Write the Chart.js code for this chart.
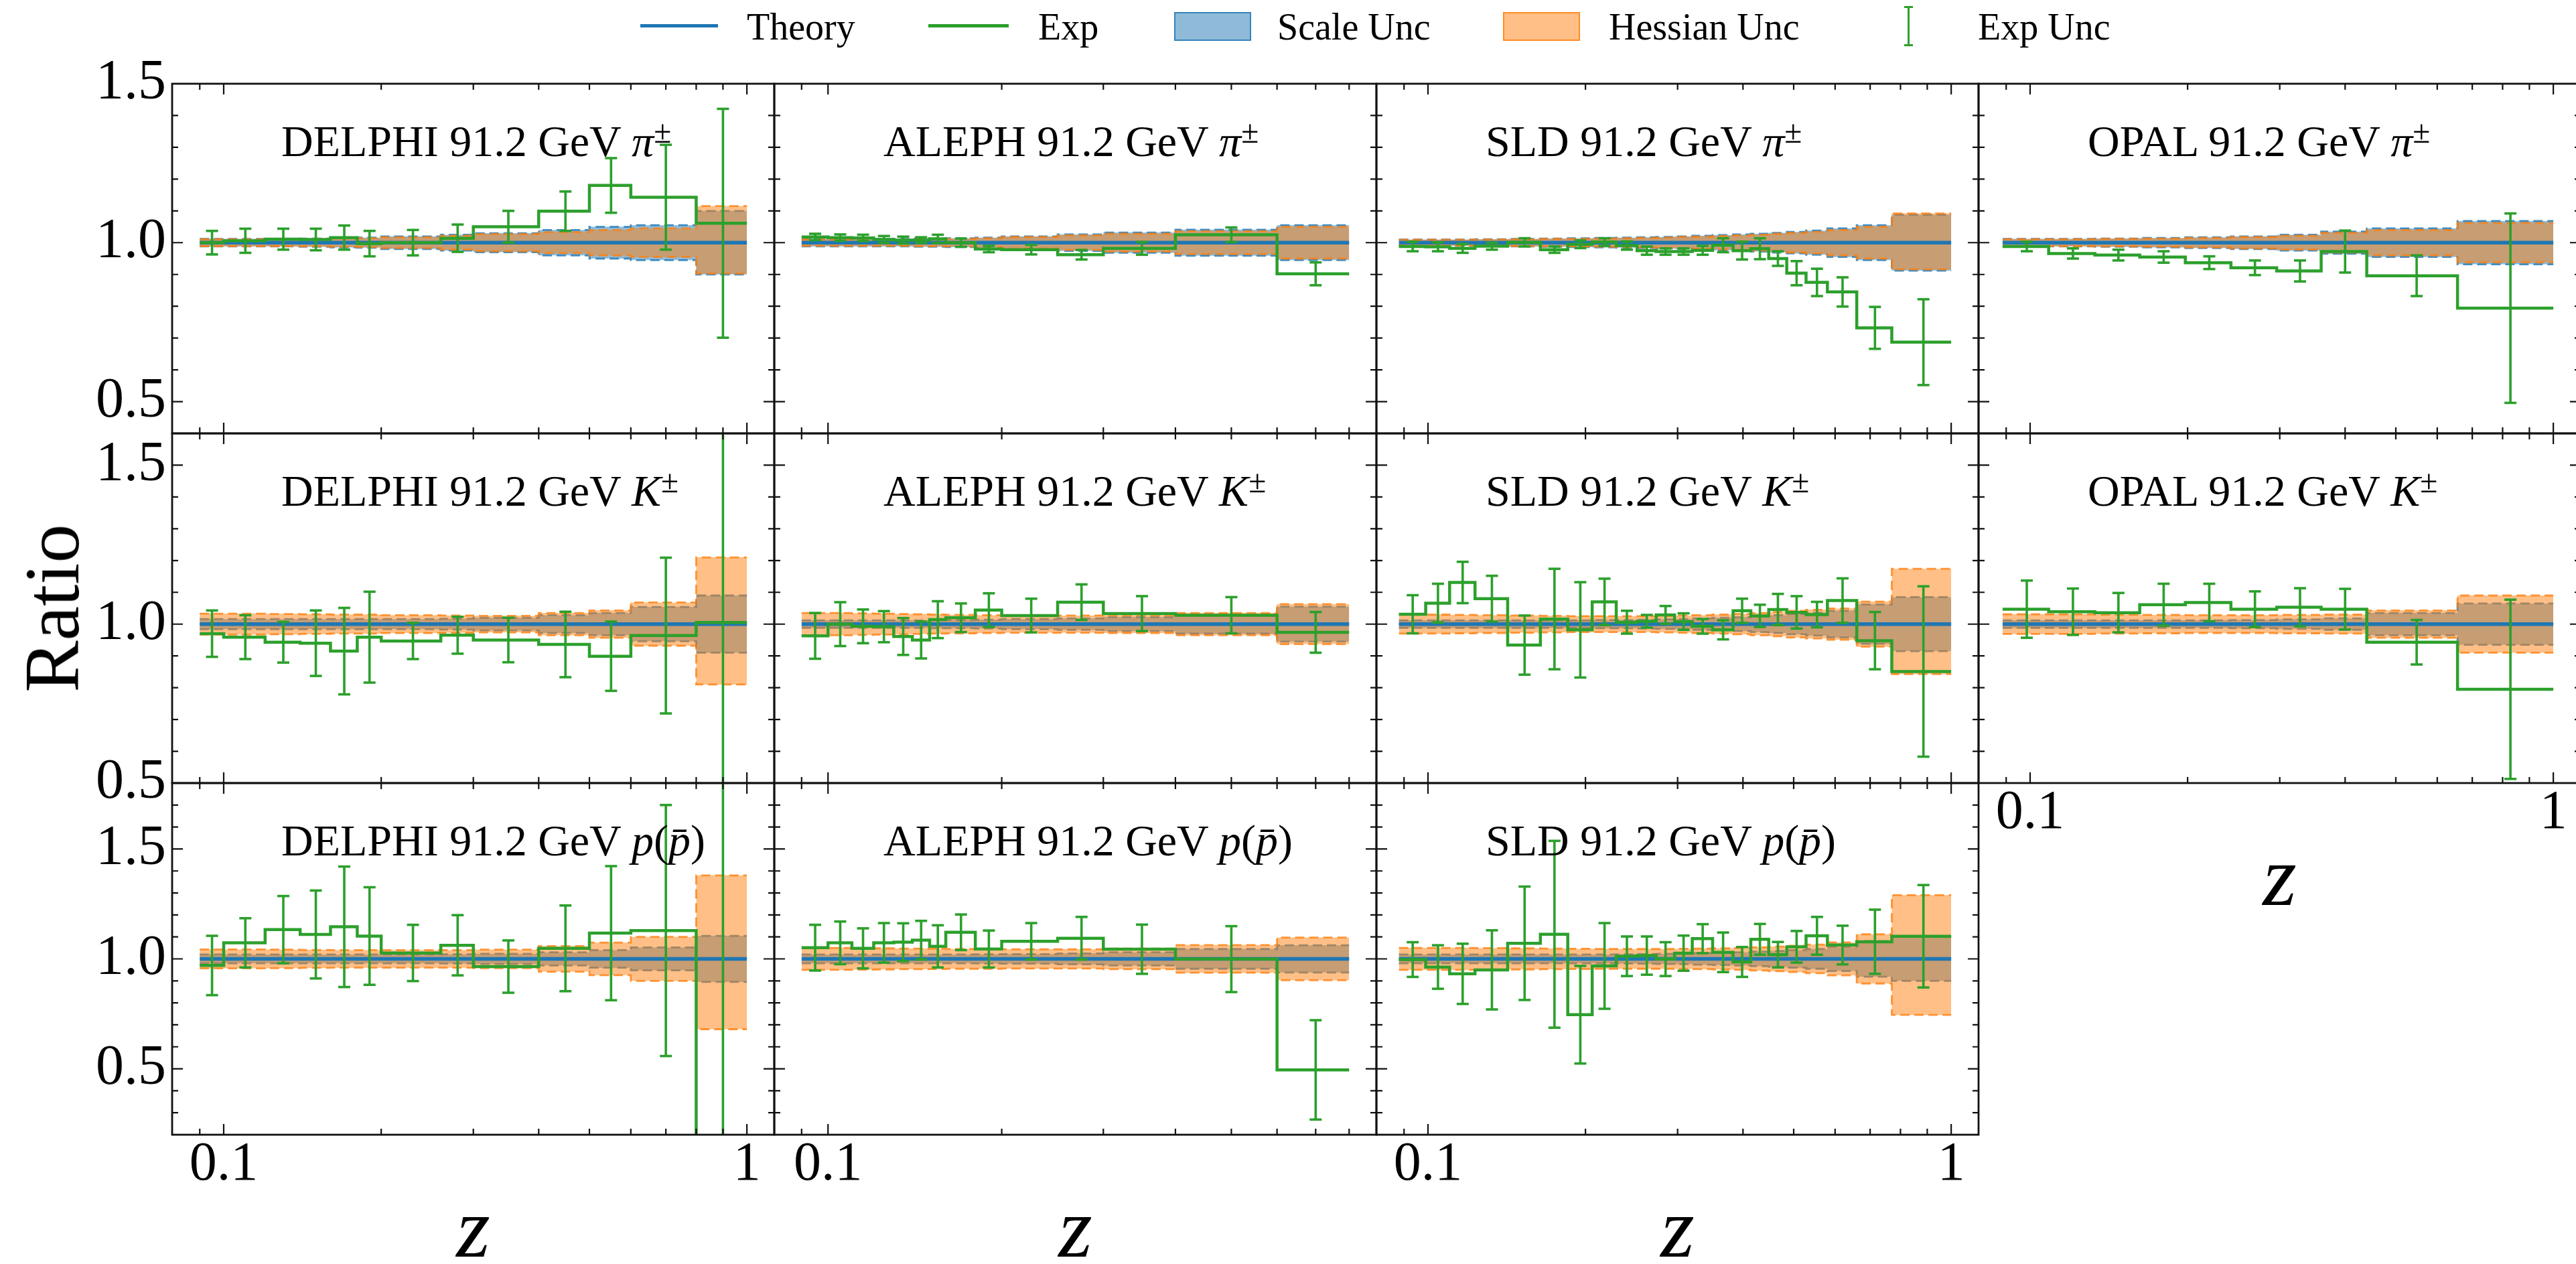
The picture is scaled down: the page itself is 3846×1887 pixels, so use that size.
<!DOCTYPE html>
<html>
<head>
<meta charset="utf-8">
<title>Ratio to theory</title>
<script src="https://cdn.jsdelivr.net/npm/chart.js@4.4.1/dist/chart.umd.min.js"></script>
<style>
html,body{margin:0;padding:0;background:#fff;}
body{position:relative;width:3846px;height:1887px;overflow:hidden;font-family:"Liberation Serif","Times New Roman",serif;color:#000;}
canvas{position:absolute;}
.txt{position:absolute;white-space:nowrap;line-height:1;}
.ptitle{font-size:66px;}
.sup{position:relative;top:-0.42em;font-size:0.72em;}
.leg{font-size:56px;}
.sw{position:absolute;}
</style>
</head>
<body>
<script>
// ---------------- bin edges (z) ----------------
const DELPHI_EDGES = [0.09,0.1,0.12,0.14,0.16,0.18,0.2,0.26,0.3,0.4,0.5,0.6,0.8,1.0];
const ALEPH_EDGES  = [0.09,0.1,0.11,0.12,0.13,0.14,0.15,0.16,0.18,0.2,0.25,0.3,0.4,0.6,0.8];
const SLD_EDGES    = [0.088,0.099,0.11,0.123,0.142,0.164,0.185,0.206,0.229,0.251,0.273,0.296,0.32,0.35,0.383,0.414,0.448,0.485,0.528,0.58,0.66,0.77,1.0];
const OPAL_EDGES   = [0.0886,0.1085,0.133,0.162,0.198,0.242,0.296,0.36,0.44,0.656,1.0];

// ---------------- pi+- ----------------
const DELPHI_PI_EXP   = [1.0,1.006,1.011,1.01,1.016,0.997,1.0,1.014,1.05,1.099,1.18,1.143,1.061];
const DELPHI_PI_ERR   = [0.037,0.038,0.033,0.034,0.038,0.04,0.04,0.043,0.05,0.062,0.086,0.165,0.36];
const DELPHI_PI_SCALE = [0.012,0.012,0.012,0.013,0.015,0.016,0.02,0.025,0.03,0.04,0.05,0.055,0.1];
const DELPHI_PI_HESS_UP = [0.011,0.011,0.011,0.012,0.013,0.014,0.017,0.022,0.027,0.033,0.04,0.045,0.115];
const DELPHI_PI_HESS_DN = [0.011,0.011,0.011,0.012,0.013,0.014,0.017,0.022,0.027,0.033,0.04,0.045,0.097];

const ALEPH_PI_EXP   = [1.018,1.016,1.015,1.01,1.008,1.008,1.012,1.0,0.98,0.978,0.962,0.982,1.025,0.902];
const ALEPH_PI_ERR   = [0.01,0.01,0.01,0.011,0.011,0.009,0.013,0.013,0.01,0.015,0.015,0.02,0.023,0.036];
const ALEPH_PI_SCALE = [0.012,0.012,0.012,0.012,0.012,0.013,0.013,0.014,0.016,0.02,0.026,0.032,0.041,0.055];
const ALEPH_PI_HESS_UP = [0.01,0.01,0.01,0.01,0.01,0.011,0.011,0.012,0.014,0.018,0.023,0.028,0.036,0.05];
const ALEPH_PI_HESS_DN = ALEPH_PI_HESS_UP;

const SLD_PI_EXP   = [0.988,0.987,0.982,0.989,1.001,0.978,0.995,1.002,0.991,0.975,0.972,0.972,0.976,0.992,0.975,0.981,0.95,0.904,0.875,0.845,0.732,0.687];
const SLD_PI_ERR   = [0.015,0.014,0.014,0.011,0.013,0.01,0.012,0.012,0.013,0.013,0.01,0.01,0.014,0.022,0.028,0.033,0.023,0.038,0.043,0.046,0.066,0.135];
const SLD_PI_SCALE = [0.01,0.01,0.01,0.011,0.012,0.013,0.014,0.015,0.016,0.017,0.018,0.02,0.022,0.024,0.026,0.028,0.031,0.034,0.038,0.045,0.055,0.088];
const SLD_PI_HESS_UP = [0.009,0.009,0.009,0.01,0.011,0.012,0.012,0.013,0.014,0.015,0.016,0.018,0.019,0.021,0.023,0.025,0.028,0.031,0.034,0.04,0.05,0.092];
const SLD_PI_HESS_DN = [0.009,0.009,0.009,0.01,0.011,0.012,0.012,0.013,0.014,0.015,0.016,0.018,0.019,0.021,0.023,0.025,0.028,0.031,0.034,0.04,0.05,0.084];

const OPAL_PI_EXP   = [0.988,0.966,0.961,0.955,0.937,0.921,0.911,0.972,0.896,0.794];
const OPAL_PI_ERR   = [0.015,0.016,0.017,0.018,0.02,0.023,0.033,0.066,0.064,0.298];
const OPAL_PI_SCALE = [0.012,0.012,0.013,0.015,0.017,0.02,0.025,0.035,0.045,0.068];
const OPAL_PI_HESS_UP = [0.011,0.011,0.012,0.013,0.015,0.018,0.022,0.031,0.04,0.062];
const OPAL_PI_HESS_DN = OPAL_PI_HESS_UP;

// ---------------- K+- ----------------
const DELPHI_K_EXP   = [0.97,0.959,0.943,0.94,0.915,0.959,0.947,0.965,0.95,0.936,0.899,0.964,1.005];
const DELPHI_K_ERR   = [0.073,0.069,0.064,0.103,0.136,0.143,0.057,0.058,0.07,0.103,0.109,0.245,1.2];
const DELPHI_K_SCALE = [0.016,0.016,0.016,0.016,0.016,0.016,0.016,0.017,0.02,0.028,0.035,0.054,0.09];
const DELPHI_K_HESS_UP = [0.033,0.033,0.032,0.031,0.03,0.03,0.028,0.027,0.026,0.035,0.043,0.068,0.21];
const DELPHI_K_HESS_DN = [0.033,0.033,0.032,0.031,0.03,0.03,0.028,0.027,0.026,0.035,0.043,0.068,0.19];

const ALEPH_K_EXP   = [0.963,1.0,0.993,0.992,0.961,0.95,1.014,1.02,1.044,1.027,1.069,1.033,1.028,0.974];
const ALEPH_K_ERR   = [0.072,0.069,0.053,0.049,0.058,0.058,0.058,0.045,0.053,0.053,0.056,0.055,0.057,0.064];
const ALEPH_K_SCALE = [0.012,0.012,0.012,0.012,0.012,0.012,0.013,0.013,0.014,0.016,0.018,0.022,0.03,0.055];
const ALEPH_K_HESS_UP = [0.035,0.035,0.034,0.033,0.032,0.031,0.03,0.029,0.028,0.027,0.027,0.028,0.035,0.063];
const ALEPH_K_HESS_DN = ALEPH_K_HESS_UP;

const SLD_K_EXP   = [1.031,1.066,1.131,1.08,0.934,1.016,0.982,1.07,1.006,1.009,1.029,1.008,0.993,0.982,1.042,1.026,1.046,1.037,1.03,1.074,0.948,0.851];
const SLD_K_ERR   = [0.06,0.061,0.065,0.072,0.093,0.158,0.15,0.073,0.036,0.02,0.028,0.026,0.023,0.03,0.038,0.035,0.049,0.051,0.04,0.07,0.09,0.268];
const SLD_K_SCALE = [0.012,0.012,0.012,0.012,0.012,0.012,0.012,0.013,0.013,0.014,0.015,0.016,0.018,0.02,0.022,0.025,0.028,0.032,0.036,0.042,0.062,0.085];
const SLD_K_HESS_UP = [0.03,0.03,0.029,0.028,0.027,0.026,0.025,0.025,0.025,0.025,0.026,0.027,0.028,0.03,0.032,0.035,0.038,0.042,0.045,0.049,0.071,0.174];
const SLD_K_HESS_DN = [0.03,0.03,0.029,0.028,0.027,0.026,0.025,0.025,0.025,0.025,0.026,0.027,0.028,0.03,0.032,0.035,0.038,0.042,0.045,0.049,0.071,0.157];

const OPAL_K_EXP   = [1.047,1.039,1.036,1.061,1.068,1.047,1.053,1.047,0.943,0.795];
const OPAL_K_ERR   = [0.09,0.073,0.062,0.066,0.059,0.056,0.06,0.064,0.07,0.282];
const OPAL_K_SCALE = [0.012,0.012,0.012,0.012,0.012,0.013,0.015,0.018,0.035,0.065];
const OPAL_K_HESS_UP = [0.031,0.031,0.03,0.029,0.028,0.028,0.029,0.03,0.043,0.09];
const OPAL_K_HESS_DN = OPAL_K_HESS_UP;

// ---------------- p(pbar) ----------------
const DELPHI_P_EXP   = [0.97,1.073,1.133,1.111,1.146,1.104,1.027,1.062,0.965,1.048,1.117,1.129,0.05];
const DELPHI_P_ERR   = [0.135,0.112,0.153,0.2,0.274,0.222,0.128,0.137,0.119,0.195,0.305,0.571,2.0];
const DELPHI_P_SCALE = [0.02,0.02,0.02,0.02,0.02,0.02,0.02,0.021,0.023,0.03,0.04,0.052,0.105];
const DELPHI_P_HESS_UP = [0.043,0.043,0.042,0.041,0.04,0.04,0.04,0.04,0.042,0.058,0.074,0.1,0.38];
const DELPHI_P_HESS_DN = [0.043,0.043,0.042,0.041,0.04,0.04,0.04,0.04,0.042,0.058,0.074,0.1,0.32];

const ALEPH_P_EXP   = [1.051,1.073,1.048,1.073,1.076,1.085,1.057,1.121,1.045,1.08,1.094,1.044,0.999,0.495];
const ALEPH_P_ERR   = [0.104,0.097,0.091,0.09,0.086,0.088,0.096,0.081,0.084,0.083,0.097,0.112,0.15,0.226];
const ALEPH_P_SCALE = [0.02,0.02,0.02,0.02,0.02,0.02,0.02,0.02,0.021,0.022,0.025,0.03,0.045,0.062];
const ALEPH_P_HESS_UP = [0.05,0.05,0.049,0.048,0.047,0.047,0.046,0.045,0.045,0.044,0.044,0.047,0.063,0.097];
const ALEPH_P_HESS_DN = ALEPH_P_HESS_UP;

const SLD_P_EXP   = [0.997,0.963,0.932,0.95,1.071,1.112,0.746,0.968,1.012,1.015,0.999,1.026,1.092,1.03,0.986,1.089,1.019,1.055,1.105,1.063,1.078,1.103];
const SLD_P_ERR   = [0.079,0.099,0.137,0.18,0.258,0.425,0.222,0.195,0.09,0.087,0.077,0.08,0.066,0.09,0.068,0.07,0.058,0.072,0.086,0.088,0.146,0.233];
const SLD_P_SCALE = [0.02,0.02,0.02,0.02,0.02,0.02,0.02,0.02,0.021,0.022,0.023,0.024,0.026,0.028,0.03,0.033,0.036,0.04,0.045,0.055,0.081,0.1];
const SLD_P_HESS_UP = [0.05,0.05,0.05,0.049,0.048,0.047,0.046,0.045,0.045,0.045,0.045,0.046,0.047,0.048,0.05,0.053,0.056,0.06,0.065,0.075,0.112,0.29];
const SLD_P_HESS_DN = [0.05,0.05,0.05,0.049,0.048,0.047,0.046,0.045,0.045,0.045,0.045,0.046,0.047,0.048,0.05,0.053,0.056,0.06,0.065,0.075,0.112,0.255];

// ---------------- axes ----------------
const X_RANGE_FULL  = [0.0797, 1.128];
const X_RANGE_ALEPH = [0.0807, 0.892];
const X_TICKS_FULL  = [0.09,0.1,0.2,0.3,0.4,0.5,0.6,0.7,0.8,0.9,1];
const X_TICKS_ALEPH = [0.09,0.1,0.2,0.3,0.4,0.5,0.6,0.7,0.8];
const X_MAJOR = [0.1, 1];
const X_TICK_LABELS = ['0.1', '1'];
const Y_RANGES = [[0.4,1.5],[0.5,1.6],[0.2,1.8]];
const Y_TICKS = [
  [0.4,0.5,0.6,0.7,0.8,0.9,1.0,1.1,1.2,1.3,1.4,1.5],
  [0.5,0.6,0.7,0.8,0.9,1.0,1.1,1.2,1.3,1.4,1.5,1.6],
  [0.2,0.3,0.4,0.5,0.6,0.7,0.8,0.9,1.0,1.1,1.2,1.3,1.4,1.5,1.6,1.7,1.8]
];
const Y_MAJOR = [0.5, 1.0, 1.5];
const Y_TICK_LABELS = ['0.5', '1.0', '1.5'];

// ---------------- layout ----------------
const COL_LEFT = [257, 1156, 2055, 2954];
const COL_W = 899;
const ROW_TOP = [125, 647, 1169];
const ROW_H = [522, 522, 525];
const PADL = 150, PADR = 150, PADT = 60, PADB = 150;

const C_THEORY = '#1f77b4', C_EXP = '#2ca02c';
const C_SCALE_FILL = 'rgba(31,119,180,0.5)', C_SCALE_EDGE = 'rgba(31,119,180,0.8)';
const C_HESS_FILL = 'rgba(255,127,14,0.5)', C_HESS_EDGE = 'rgba(255,127,14,0.8)';
const FONT = 'Liberation Serif';

const HADRON = {
  pi: '<i>π</i><span class="sup">±</span>',
  K:  '<i>K</i><span class="sup">±</span>',
  p:  '<i>p</i>(<i>p̄</i>)'
};

const PANELS = [
  {row:0,col:0,exp:'DELPHI',h:'pi',edges:DELPHI_EDGES,v:DELPHI_PI_EXP,e:DELPHI_PI_ERR,s:DELPHI_PI_SCALE,hu:DELPHI_PI_HESS_UP,hd:DELPHI_PI_HESS_DN},
  {row:0,col:1,exp:'ALEPH', h:'pi',edges:ALEPH_EDGES, v:ALEPH_PI_EXP, e:ALEPH_PI_ERR, s:ALEPH_PI_SCALE, hu:ALEPH_PI_HESS_UP, hd:ALEPH_PI_HESS_DN},
  {row:0,col:2,exp:'SLD',   h:'pi',edges:SLD_EDGES,   v:SLD_PI_EXP,   e:SLD_PI_ERR,   s:SLD_PI_SCALE,   hu:SLD_PI_HESS_UP,   hd:SLD_PI_HESS_DN},
  {row:0,col:3,exp:'OPAL',  h:'pi',edges:OPAL_EDGES,  v:OPAL_PI_EXP,  e:OPAL_PI_ERR,  s:OPAL_PI_SCALE,  hu:OPAL_PI_HESS_UP,  hd:OPAL_PI_HESS_DN},
  {row:1,col:0,exp:'DELPHI',h:'K', edges:DELPHI_EDGES,v:DELPHI_K_EXP, e:DELPHI_K_ERR, s:DELPHI_K_SCALE, hu:DELPHI_K_HESS_UP, hd:DELPHI_K_HESS_DN},
  {row:1,col:1,exp:'ALEPH', h:'K', edges:ALEPH_EDGES, v:ALEPH_K_EXP,  e:ALEPH_K_ERR,  s:ALEPH_K_SCALE,  hu:ALEPH_K_HESS_UP,  hd:ALEPH_K_HESS_DN},
  {row:1,col:2,exp:'SLD',   h:'K', edges:SLD_EDGES,   v:SLD_K_EXP,    e:SLD_K_ERR,    s:SLD_K_SCALE,    hu:SLD_K_HESS_UP,    hd:SLD_K_HESS_DN},
  {row:1,col:3,exp:'OPAL',  h:'K', edges:OPAL_EDGES,  v:OPAL_K_EXP,   e:OPAL_K_ERR,   s:OPAL_K_SCALE,   hu:OPAL_K_HESS_UP,   hd:OPAL_K_HESS_DN, xlabels:true},
  {row:2,col:0,exp:'DELPHI',h:'p', edges:DELPHI_EDGES,v:DELPHI_P_EXP, e:DELPHI_P_ERR, s:DELPHI_P_SCALE, hu:DELPHI_P_HESS_UP, hd:DELPHI_P_HESS_DN, xlabels:true},
  {row:2,col:1,exp:'ALEPH', h:'p', edges:ALEPH_EDGES, v:ALEPH_P_EXP,  e:ALEPH_P_ERR,  s:ALEPH_P_SCALE,  hu:ALEPH_P_HESS_UP,  hd:ALEPH_P_HESS_DN, xlabels:true},
  {row:2,col:2,exp:'SLD',   h:'p', edges:SLD_EDGES,   v:SLD_P_EXP,    e:SLD_P_ERR,    s:SLD_P_SCALE,    hu:SLD_P_HESS_UP,    hd:SLD_P_HESS_DN, xlabels:true}
];

function near(a, b) { return Math.abs(a - b) < 1e-9; }
function idxIn(list, v) { for (let i = 0; i < list.length; i++) if (near(list[i], v)) return i; return -1; }

function stepPts(edges, vals) {
  const n = edges.length - 1, d = [];
  for (let i = 0; i < n; i++) d.push({x: edges[i], y: vals[i]});
  d.push({x: edges[n], y: vals[n - 1]});
  return d;
}

const framePlugin = {
  id: 'frameTicks',
  afterDraw(chart) {
    const {ctx, chartArea: a} = chart;
    const xs = chart.scales.x, ys = chart.scales.y;
    ctx.save();
    ctx.strokeStyle = '#111';
    ctx.lineWidth = 2.2;
    ctx.beginPath();
    xs.ticks.forEach(t => {
      const px = xs.getPixelForValue(t.value);
      const len = idxIn(X_MAJOR, t.value) >= 0 ? 16 : 9;
      ctx.moveTo(px, a.bottom); ctx.lineTo(px, a.bottom - len);
      ctx.moveTo(px, a.top); ctx.lineTo(px, a.top + len);
    });
    ys.ticks.forEach(t => {
      const py = ys.getPixelForValue(t.value);
      const len = idxIn(Y_MAJOR, t.value) >= 0 ? 16 : 9;
      ctx.moveTo(a.left, py); ctx.lineTo(a.left + len, py);
      ctx.moveTo(a.right, py); ctx.lineTo(a.right - len, py);
    });
    ctx.stroke();
    ctx.lineWidth = 2.8;
    ctx.strokeRect(a.left, a.top, a.right - a.left, a.bottom - a.top);
    ctx.restore();
  }
};

function addText(html, cls, left, top, extraStyle) {
  const d = document.createElement('div');
  d.className = 'txt ' + cls;
  d.innerHTML = html;
  d.style.left = left + 'px';
  d.style.top = top + 'px';
  if (extraStyle) d.setAttribute('style', d.getAttribute('style') + ';' + extraStyle);
  document.body.appendChild(d);
  return d;
}

function makePanel(p) {
  const L = COL_LEFT[p.col], T = ROW_TOP[p.row], W = COL_W, H = ROW_H[p.row];
  const cv = document.createElement('canvas');
  cv.width = W + PADL + PADR;
  cv.height = H + PADT + PADB;
  cv.style.left = (L - PADL) + 'px';
  cv.style.top = (T - PADT) + 'px';
  document.body.appendChild(cv);

  const edges = p.edges, n = edges.length - 1;
  const isAleph = p.exp === 'ALEPH';
  const xr = isAleph ? X_RANGE_ALEPH : X_RANGE_FULL;
  const xt = isAleph ? X_TICKS_ALEPH : X_TICKS_FULL;
  const showX = !!p.xlabels, showY = p.col === 0;

  const errPts = [];
  for (let i = 0; i < n; i++) {
    const c = (edges[i] + edges[i + 1]) / 2;
    errPts.push({x: c, y: p.v[i] - p.e[i]}, {x: c, y: p.v[i] + p.e[i]}, {x: c, y: null});
  }
  const base = {pointRadius: 0, pointHoverRadius: 0, stepped: true, fill: false};
  const datasets = [
    Object.assign({}, base, {label:'Scale hi', data: stepPts(edges, p.s.map(s => 1 + s)), borderColor: C_SCALE_EDGE, borderWidth: 2.8, borderDash: [14, 7], backgroundColor: C_SCALE_FILL, fill: '+1', order: 7}),
    Object.assign({}, base, {label:'Scale lo', data: stepPts(edges, p.s.map(s => 1 - s)), borderColor: C_SCALE_EDGE, borderWidth: 2.8, borderDash: [14, 7], order: 6}),
    Object.assign({}, base, {label:'Hess hi', data: stepPts(edges, p.hu.map(s => 1 + s)), borderColor: C_HESS_EDGE, borderWidth: 2.8, borderDash: [14, 7], backgroundColor: C_HESS_FILL, fill: '+1', order: 5}),
    Object.assign({}, base, {label:'Hess lo', data: stepPts(edges, p.hd.map(s => 1 - s)), borderColor: C_HESS_EDGE, borderWidth: 2.8, borderDash: [14, 7], order: 4}),
    Object.assign({}, base, {label:'Theory', data: [{x: edges[0], y: 1}, {x: edges[n], y: 1}], stepped: false, borderColor: C_THEORY, borderWidth: 5.5, order: 3}),
    Object.assign({}, base, {label:'Exp', data: stepPts(edges, p.v), borderColor: C_EXP, borderWidth: 4.5, order: 2}),
    {label:'Exp Unc', data: errPts, stepped: false, fill: false, borderColor: C_EXP, borderWidth: 3.6,
     pointStyle: 'line', pointRadius: 9, pointHoverRadius: 9, pointBorderWidth: 3.6, pointBorderColor: C_EXP,
     pointBackgroundColor: C_EXP, spanGaps: false, order: 1}
  ];

  new Chart(cv, {
    type: 'line',
    data: {datasets},
    options: {
      responsive: false, animation: false, events: [],
      layout: {padding: {left: 0, top: PADT, right: PADR, bottom: 0}},
      plugins: {legend: {display: false}, tooltip: {enabled: false}, title: {display: false}},
      scales: {
        x: {
          type: 'logarithmic', position: 'bottom', bounds: 'data', min: xr[0], max: xr[1],
          afterBuildTicks: s => { s.ticks = xt.map(v => ({value: v})); },
          afterFit: s => { s.height = PADB; },
          grid: {display: false, drawTicks: false},
          border: {display: false},
          ticks: {
            autoSkip: false, maxRotation: 0, minRotation: 0, padding: 4, color: '#000',
            font: {family: FONT, size: 82, lineHeight: 1},
            callback: v => { if (!showX) return ''; const k = idxIn(X_MAJOR, v); return k >= 0 ? X_TICK_LABELS[k] : ''; }
          }
        },
        y: {
          type: 'linear', position: 'left', bounds: 'data', min: Y_RANGES[p.row][0], max: Y_RANGES[p.row][1],
          afterBuildTicks: s => { s.ticks = Y_TICKS[p.row].map(v => ({value: v})); },
          afterFit: s => { s.width = PADL; },
          grid: {display: false, drawTicks: false},
          border: {display: false},
          ticks: {
            autoSkip: false, padding: 9, color: '#000',
            font: {family: FONT, size: 84, lineHeight: 1},
            callback: v => { if (!showY) return ''; const k = idxIn(Y_MAJOR, v); return k >= 0 ? Y_TICK_LABELS[k] : ''; }
          }
        }
      }
    },
    plugins: [framePlugin]
  });

  // panel title, left aligned at 18% of the panel width
  addText(p.exp + ' 91.2 GeV ' + HADRON[p.h], 'ptitle', Math.round(L + 0.181 * W), T + 53);
}

PANELS.forEach(makePanel);

// axis labels
const X_LABEL = 'z', Y_LABEL = 'Ratio';
[[0, 2], [1, 2], [2, 2], [3, 1]].forEach(([c, r]) => {
  const cx = COL_LEFT[c] + COL_W / 2;
  const baseline = ROW_TOP[r] + ROW_H[r] + 182;
  addText('<i>' + X_LABEL + '</i>', '', cx, baseline - 109, 'font-size:130px;transform:translateX(-50%)');
});
addText(Y_LABEL, '', 78, 908, 'font-size:116px;transform:translate(-50%,-50%) rotate(-90deg)');

// legend
const LEGEND_LABELS = ['Theory', 'Exp', 'Scale Unc', 'Hessian Unc', 'Exp Unc'];
const LEGEND_TEXT_X = [1115, 1550, 1907, 2402, 2953];
LEGEND_LABELS.forEach((t, i) => addText(t, 'leg', LEGEND_TEXT_X[i], 12));
function sw(style) { const d = document.createElement('div'); d.className = 'sw'; d.setAttribute('style', style); document.body.appendChild(d); }
sw('left:956px;top:36px;width:116px;height:5px;background:' + C_THEORY);
sw('left:1386px;top:36px;width:120px;height:5px;background:' + C_EXP);
sw('left:1753px;top:18px;width:115px;height:43px;box-sizing:border-box;background:' + C_SCALE_FILL + ';border:2px solid ' + C_SCALE_EDGE);
sw('left:2244px;top:18px;width:115px;height:43px;box-sizing:border-box;background:' + C_HESS_FILL + ';border:2px solid ' + C_HESS_EDGE);
sw('left:2848px;top:10px;width:3px;height:58px;background:' + C_EXP);
sw('left:2843px;top:9px;width:13px;height:3px;background:' + C_EXP);
sw('left:2843px;top:66px;width:13px;height:3px;background:' + C_EXP);
</script>
</body>
</html>
